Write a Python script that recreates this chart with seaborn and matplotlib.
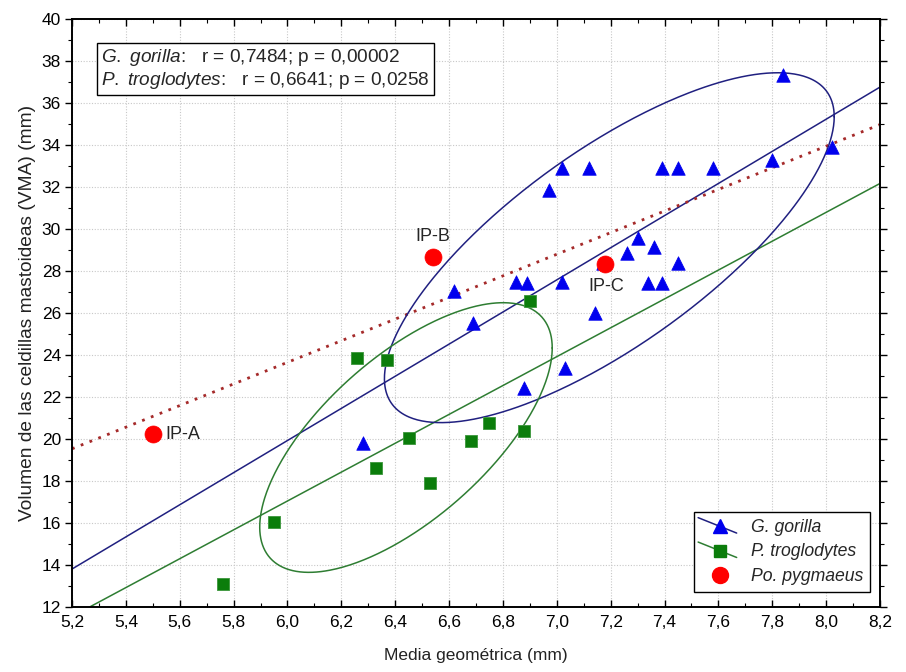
import numpy as np
import pandas as pd
import matplotlib
matplotlib.use("Agg")
import matplotlib.pyplot as plt
import seaborn as sns
from matplotlib.lines import Line2D
from matplotlib.legend_handler import HandlerBase
from matplotlib.ticker import MultipleLocator, FuncFormatter

# ---------------- data ----------------
gor_x = [7.84, 8.02, 7.80, 7.02, 7.12, 7.39, 7.45, 7.58, 6.97, 7.30, 7.36, 7.26,
         7.45, 7.17, 6.85, 6.89, 7.02, 7.34, 7.39, 6.62, 7.14, 6.69, 7.03, 6.88, 6.28]
gor_y = [37.33, 33.89, 33.29, 32.89, 32.89, 32.89, 32.89, 32.89, 31.86, 29.59, 29.16, 28.84,
         28.40, 28.37, 27.49, 27.44, 27.49, 27.44, 27.44, 27.05, 26.01, 25.51, 23.37, 22.41, 19.79]

tro_x = [6.90, 6.26, 6.37, 6.75, 6.45, 6.68, 6.88, 6.33, 6.53, 5.95, 5.76]
tro_y = [26.57, 23.84, 23.76, 20.78, 20.03, 19.92, 20.40, 18.60, 17.89, 16.06, 13.08]

pyg_x = [5.50, 6.54, 7.18]
pyg_y = [20.22, 28.68, 28.33]
pyg_labels = ["IP-A", "IP-B", "IP-C"]

species = ["G. gorilla", "P. troglodytes", "Po. pygmaeus"]
r_values = [0.7484, 0.6641]
p_values = ["0,00002", "0,0258"]

# ellipses: centre x, centre y, half x-extent, half y-extent
gor_ellipse = [7.195, 29.11, 0.835, 8.33]
tro_ellipse = [6.44, 20.07, 0.543, 6.42]

x_label = "Media geométrica (mm)"
y_label = "Volumen de las celdillas mastoideas (VMA) (mm)"

# ---------------- style ----------------
sns.set_theme(style="white")
FONT = ["Liberation Sans", "DejaVu Sans"]
plt.rcParams["font.family"] = FONT
plt.rcParams["mathtext.fontset"] = "custom"
plt.rcParams["mathtext.it"] = "Liberation Sans:italic"
plt.rcParams["mathtext.rm"] = "Liberation Sans"

c_gor_pt, c_gor_ln = "#0000ee", "#202080"
c_tro_pt, c_tro_ln = "#0b7d0b", "#2e7d32"
c_pyg_pt, c_pyg_ln = "#ff0000", "#a52a2a"

df = pd.concat([
    pd.DataFrame({"x": gor_x, "y": gor_y, "sp": species[0]}),
    pd.DataFrame({"x": tro_x, "y": tro_y, "sp": species[1]}),
    pd.DataFrame({"x": pyg_x, "y": pyg_y, "sp": species[2]}),
], ignore_index=True)

fig = plt.figure(figsize=(9.06, 6.72), dpi=100)
ax = fig.add_axes([72 / 906, 1 - 607 / 672, 808 / 906, 588 / 672])
ax.set_xlim(5.2, 8.2)
ax.set_ylim(12, 40)

# grid
ax.set_axisbelow(True)
ax.grid(True, which="major", color="#c8c8c8", linestyle=(0, (1, 1.5)), linewidth=0.8)

# regression lines (across the whole axis)
sns.regplot(data=df[df.sp == species[0]], x="x", y="y", scatter=False, ci=None,
            truncate=False, ax=ax, line_kws=dict(color=c_gor_ln, lw=1.1))
sns.regplot(data=df[df.sp == species[1]], x="x", y="y", scatter=False, ci=None,
            truncate=False, ax=ax, line_kws=dict(color=c_tro_ln, lw=1.1))
sns.regplot(data=df[df.sp == species[2]], x="x", y="y", scatter=False, ci=None,
            truncate=False, ax=ax, line_kws=dict(color=c_pyg_ln, lw=2.0,
                                                  linestyle=(0, (1, 2.4))))


# correlation ellipses: extents from the picture, tilt from the reported r
def draw_ellipse(params, r, color):
    mx, my, hx, hy = params
    phi = np.arccos(r)
    t = np.linspace(0, 2 * np.pi, 500)
    ax.plot(mx + hx * np.cos(t), my + hy * np.cos(t - phi), color=color, lw=1.1, zorder=2)


draw_ellipse(gor_ellipse, r_values[0], c_gor_ln)
draw_ellipse(tro_ellipse, r_values[1], c_tro_ln)

# points
sns.scatterplot(data=df[df.sp == species[0]], x="x", y="y", marker="^", s=95,
                color=c_gor_pt, edgecolor=c_gor_pt, linewidth=0.5, ax=ax, zorder=4, legend=False)
sns.scatterplot(data=df[df.sp == species[1]], x="x", y="y", marker="s", s=72,
                color=c_tro_pt, edgecolor="#3c963c", linewidth=0.6, ax=ax, zorder=4, legend=False)
sns.scatterplot(data=df[df.sp == species[2]], x="x", y="y", marker="o", s=150,
                color=c_pyg_pt, edgecolor=c_pyg_pt, linewidth=0.5, ax=ax, zorder=5, legend=False)

# point labels
offsets = [(9, 0, "left", "center"), (0, 14.5, "center", "center"), (1, -16, "center", "center")]
for (px, py, lab, (dx, dy, ha, va)) in zip(pyg_x, pyg_y, pyg_labels, offsets):
    ax.annotate(lab, (px, py), xytext=(dx, dy), textcoords="offset points",
                ha=ha, va=va, fontsize=13, zorder=6)

ax.set_xlim(5.2, 8.2)
ax.set_ylim(12, 40)

# ticks
dec = FuncFormatter(lambda v, p: f"{v:.1f}".replace(".", ","))
ax.xaxis.set_major_locator(MultipleLocator(0.2))
ax.xaxis.set_minor_locator(MultipleLocator(0.1))
ax.xaxis.set_major_formatter(dec)
ax.yaxis.set_major_locator(MultipleLocator(2))
ax.yaxis.set_minor_locator(MultipleLocator(1))
ax.yaxis.set_major_formatter(FuncFormatter(lambda v, p: f"{v:.0f}"))
ax.tick_params(axis="x", which="both", direction="in", top=True, bottom=True,
               labelsize=12.5, pad=6, colors="black")
ax.tick_params(axis="y", which="both", direction="out", left=True, right=True,
               labelsize=12.5, pad=3, colors="black")
ax.tick_params(which="major", length=5, width=1)
ax.tick_params(which="minor", length=3, width=0.8)
for s in ax.spines.values():
    s.set_visible(True)
    s.set_color("black")
    s.set_linewidth(1.4)

ax.set_xlabel(x_label, fontsize=12.5, labelpad=13, color="#222222")
ax.set_ylabel(y_label, fontsize=13.8, labelpad=4, color="#222222")

# statistics box
txt = (r"$\mathit{G.\ gorilla}$:   r = " + f"{r_values[0]:.4f}".replace(".", ",") +
       "; p = " + p_values[0] + "\n" +
       r"$\mathit{P.\ troglodytes}$:   r = " + f"{r_values[1]:.4f}".replace(".", ",") +
       "; p = " + p_values[1])
ax.text(0.036, 0.952, txt, transform=ax.transAxes, ha="left", va="top",
        fontsize=13.7, linespacing=1.12, zorder=7,
        bbox=dict(boxstyle="square,pad=0.22", fc="white", ec="black", lw=1.0))


# legend with diagonal line handles
class DiagHandler(HandlerBase):
    def create_artists(self, legend, orig_handle, xdescent, ydescent, width,
                       height, fontsize, trans):
        arts = []
        if orig_handle.get_linestyle() not in ("None", "none", ""):
            ln = Line2D([-xdescent - 0.1 * width, -xdescent + 1.05 * width],
                        [-ydescent + 1.15 * height, -ydescent - 0.1 * height],
                        color=orig_handle.get_color(), lw=1.1)
            ln.set_transform(trans)
            arts.append(ln)
        mk = Line2D([-xdescent + 0.55 * width], [-ydescent + 0.45 * height],
                    marker=orig_handle.get_marker(), linestyle="None",
                    markersize=orig_handle.get_markersize(),
                    markerfacecolor=orig_handle.get_markerfacecolor(),
                    markeredgecolor=orig_handle.get_markeredgecolor())
        mk.set_transform(trans)
        arts.append(mk)
        return arts


h1 = Line2D([], [], color=c_gor_ln, marker="^", markersize=10,
            markerfacecolor=c_gor_pt, markeredgecolor=c_gor_pt)
h2 = Line2D([], [], color=c_tro_ln, marker="s", markersize=9,
            markerfacecolor=c_tro_pt, markeredgecolor=c_tro_pt)
h3 = Line2D([], [], color=c_pyg_pt, linestyle="None", marker="o", markersize=11.5,
            markerfacecolor=c_pyg_pt, markeredgecolor=c_pyg_pt)
hm = DiagHandler()
leg = ax.legend([h1, h2, h3], species, loc="lower right", bbox_to_anchor=(0.988, 0.026),
                borderaxespad=0, frameon=True, fancybox=False, edgecolor="black",
                framealpha=1, handlelength=1.9, handletextpad=0.9, labelspacing=0.42,
                borderpad=0.4, handler_map={h1: hm, h2: hm, h3: hm},
                prop=dict(style="italic", size=12.7))
leg.get_frame().set_linewidth(1.0)
leg.set_zorder(8)

fig.savefig("out.png", dpi=100)
